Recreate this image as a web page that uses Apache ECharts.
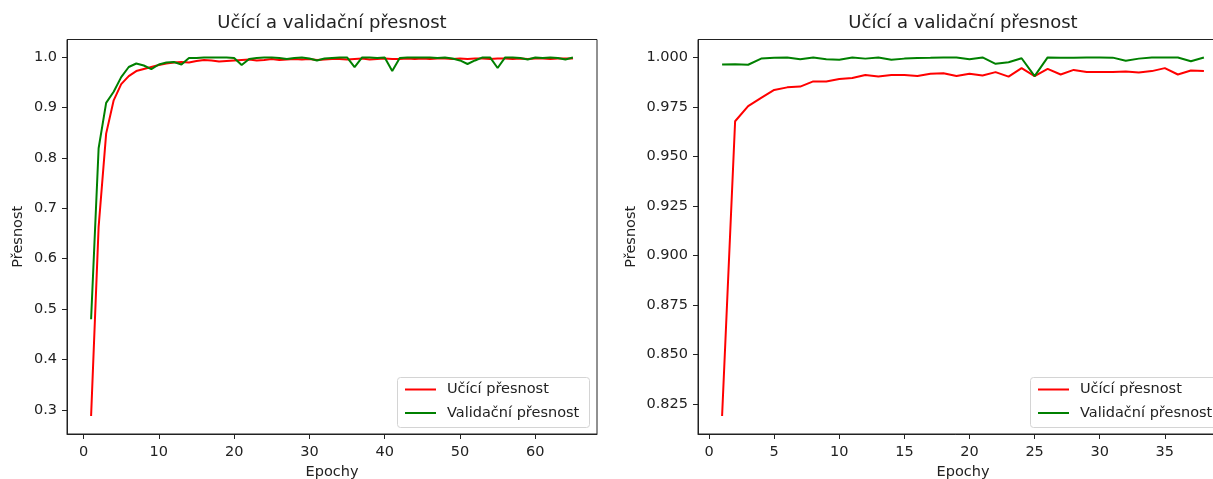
<!DOCTYPE html>
<html>
<head>
<meta charset="utf-8">
<title>Učící a validační přesnost</title>
<script src="https://cdn.jsdelivr.net/npm/echarts@6/dist/echarts.min.js"></script>
<style>
  html, body { margin: 0; padding: 0; background: #ffffff; }
  #chart { width: 1213px; height: 479px; }
</style>
</head>
<body>
<div id="chart"></div>
<script>
// Run 1: 65 epochs
const epochsRun1 = Array.from({ length: 65 }, (_, i) => i + 1);
const trainRun1 = [
  0.288, 0.663, 0.848, 0.914, 0.946, 0.962, 0.972, 0.976, 0.980, 0.984,
  0.987, 0.989, 0.990, 0.989, 0.992, 0.994, 0.993, 0.991, 0.992, 0.993,
  0.994, 0.995, 0.993, 0.994, 0.996, 0.994, 0.995, 0.996, 0.995, 0.996,
  0.994, 0.995, 0.996, 0.996, 0.995, 0.996, 0.997, 0.995, 0.996, 0.997,
  0.996, 0.996, 0.997, 0.996, 0.997, 0.996, 0.997, 0.997, 0.996, 0.997,
  0.996, 0.997, 0.997, 0.996, 0.997, 0.997, 0.996, 0.997, 0.996, 0.997,
  0.997, 0.996, 0.997, 0.997, 0.997
];
const validRun1 = [
  0.480, 0.819, 0.909, 0.931, 0.960, 0.980, 0.987, 0.983, 0.976, 0.985,
  0.989, 0.990, 0.985, 0.998, 0.998, 0.999, 0.999, 0.999, 0.999, 0.998,
  0.984, 0.996, 0.998, 0.999, 0.999, 0.998, 0.996, 0.998, 0.999, 0.997,
  0.993, 0.997, 0.998, 0.999, 0.999, 0.980, 0.999, 0.999, 0.998, 0.999,
  0.972, 0.998, 0.999, 0.999, 0.999, 0.999, 0.998, 0.999, 0.997, 0.993,
  0.986, 0.993, 0.999, 0.999, 0.978, 0.999, 0.999, 0.998, 0.995, 0.999,
  0.998, 0.999, 0.998, 0.995, 0.999
];

// Run 2: 38 epochs
const epochsRun2 = Array.from({ length: 38 }, (_, i) => i + 1);
const trainRun2 = [
  0.8190, 0.9677, 0.9753, 0.9795, 0.9835, 0.9848, 0.9852, 0.9878, 0.9878, 0.9890,
  0.9895, 0.9910, 0.9903, 0.9910, 0.9910, 0.9905, 0.9917, 0.9919, 0.9905, 0.9917,
  0.9908, 0.9925, 0.9902, 0.9945, 0.9905, 0.9941, 0.9913, 0.9936, 0.9926, 0.9925,
  0.9926, 0.9928, 0.9923, 0.9930, 0.9945, 0.9913, 0.9933, 0.9930
];
const validRun2 = [
  0.9963, 0.9965, 0.9962, 0.9993, 0.9997, 0.9999, 0.9990, 0.9999, 0.9990, 0.9987,
  0.9999, 0.9993, 0.9999, 0.9987, 0.9993, 0.9996, 0.9997, 0.9999, 0.9999, 0.9990,
  0.9999, 0.9967, 0.9975, 0.9995, 0.9905, 0.9999, 0.9998, 0.9998, 0.9999, 0.9999,
  0.9998, 0.9982, 0.9993, 0.9999, 0.9999, 0.9999, 0.9980, 0.9999
];

// Tick labels
const xTicksRun1 = [0, 10, 20, 30, 40, 50, 60];
const yTicksRun1 = [0.3, 0.4, 0.5, 0.6, 0.7, 0.8, 0.9, 1.0];
const xTicksRun2 = [0, 5, 10, 15, 20, 25, 30, 35];
const yTicksRun2 = [0.825, 0.850, 0.875, 0.900, 0.925, 0.950, 0.975, 1.000];

const titleText = 'Učící a validační přesnost';
const xName = 'Epochy';
const yName = 'Přesnost';
const trainName = 'Učící přesnost';
const validName = 'Validační přesnost';

const TEXT = '#222222';
const FONT = 'DejaVu Sans';
const TICK_FONT = 14.5;
const LEGEND_TOP = 377;
const LEGEND_HEIGHT = 50;

// Autoscale limits with a 5% margin on each side
function padded(values) {
  const lo = Math.min(...values), hi = Math.max(...values);
  const m = (hi - lo) * 0.05;
  return [lo - m, hi + m];
}

const xLim1 = padded(epochsRun1);
const yLim1 = padded(trainRun1.concat(validRun1));
const xLim2 = padded(epochsRun2);
const yLim2 = padded(trainRun2.concat(validRun2));

const pairs = (xs, ys) => xs.map((x, i) => [x, ys[i]]);

function xAxisFor(gridIndex, lim, ticks) {
  return {
    type: 'value', gridIndex, min: lim[0], max: lim[1],
    name: xName, nameLocation: 'middle', nameGap: 31,
    nameTextStyle: { color: TEXT, fontSize: TICK_FONT, fontFamily: FONT },
    axisLine: { show: true, onZero: false, lineStyle: { color: TEXT, width: 1 } },
    axisTick: { show: true, length: 5, customValues: ticks, lineStyle: { color: TEXT, width: 1 } },
    axisLabel: { customValues: ticks, margin: 11, color: TEXT, fontSize: TICK_FONT, fontFamily: FONT,
      formatter: v => String(Math.round(v)) },
    splitLine: { show: false }
  };
}

function yAxisFor(gridIndex, lim, ticks, digits, gap) {
  return {
    type: 'value', gridIndex, min: lim[0], max: lim[1],
    name: yName, nameLocation: 'middle', nameGap: gap,
    nameTextStyle: { color: TEXT, fontSize: TICK_FONT, fontFamily: FONT },
    axisLine: { show: true, onZero: false, lineStyle: { color: TEXT, width: 1 } },
    axisTick: { show: true, length: 5, customValues: ticks, lineStyle: { color: TEXT, width: 1 } },
    axisLabel: { customValues: ticks, margin: 10, color: TEXT, fontSize: TICK_FONT, fontFamily: FONT,
      formatter: v => v.toFixed(digits) },
    splitLine: { show: false }
  };
}

// Legend entries; the frame is drawn separately so it may run past the canvas edge
function legendAt(left) {
  return {
    orient: 'vertical', left, top: LEGEND_TOP,
    data: [trainName, validName],
    icon: 'rect', itemWidth: 31, itemHeight: 2, itemGap: 8.5,
    selectedMode: false,
    padding: [5, 8, 8, 8],
    borderWidth: 0,
    textStyle: { color: TEXT, fontSize: TICK_FONT, fontFamily: FONT, padding: [0, 0, 0, 6] },
    z: 5
  };
}

function legendFrame(x, w) {
  return {
    type: 'rect', z: 4, silent: true,
    shape: { x: x + 0.5, y: LEGEND_TOP + 0.5, width: w, height: LEGEND_HEIGHT, r: 3 },
    style: { fill: 'rgba(255,255,255,0.8)', stroke: '#d4d4d4', lineWidth: 1 }
  };
}

function lineSeries(name, color, xi, data) {
  return {
    type: 'line', name, xAxisIndex: xi, yAxisIndex: xi, data,
    showSymbol: false, symbol: 'none', clip: true,
    lineStyle: { color, width: 2 }, itemStyle: { color },
    emphasis: { disabled: true }
  };
}

function titleAt(cx) {
  return {
    text: titleText, left: cx, top: 14.5, textAlign: 'center', padding: 0,
    textStyle: { color: TEXT, fontSize: 18, fontWeight: 'normal', fontFamily: FONT }
  };
}

const gridBase = {
  top: 39.5, width: 530, height: 394.5, show: true,
  borderColor: TEXT, borderWidth: 1, backgroundColor: 'transparent',
  outerBoundsMode: 'none', containLabel: false
};

const chart = echarts.init(document.getElementById('chart'), null, { renderer: 'canvas' });
chart.setOption({
  animation: false,
  backgroundColor: '#ffffff',
  title: [titleAt(332), titleAt(963)],
  grid: [
    Object.assign({ left: 67 }, gridBase),
    Object.assign({ left: 698 }, gridBase)
  ],
  xAxis: [
    xAxisFor(0, xLim1, xTicksRun1),
    xAxisFor(1, xLim2, xTicksRun2)
  ],
  yAxis: [
    yAxisFor(0, yLim1, yTicksRun1, 1, 41),
    yAxisFor(1, yLim2, yTicksRun2, 3, 59)
  ],
  legend: [legendAt(397), legendAt(1030)],
  graphic: [legendFrame(397, 192), legendFrame(1030, 200)],
  series: [
    lineSeries(trainName, '#ff0000', 0, pairs(epochsRun1, trainRun1)),
    lineSeries(validName, '#008000', 0, pairs(epochsRun1, validRun1)),
    lineSeries(trainName, '#ff0000', 1, pairs(epochsRun2, trainRun2)),
    lineSeries(validName, '#008000', 1, pairs(epochsRun2, validRun2))
  ]
});
</script>
</body>
</html>
